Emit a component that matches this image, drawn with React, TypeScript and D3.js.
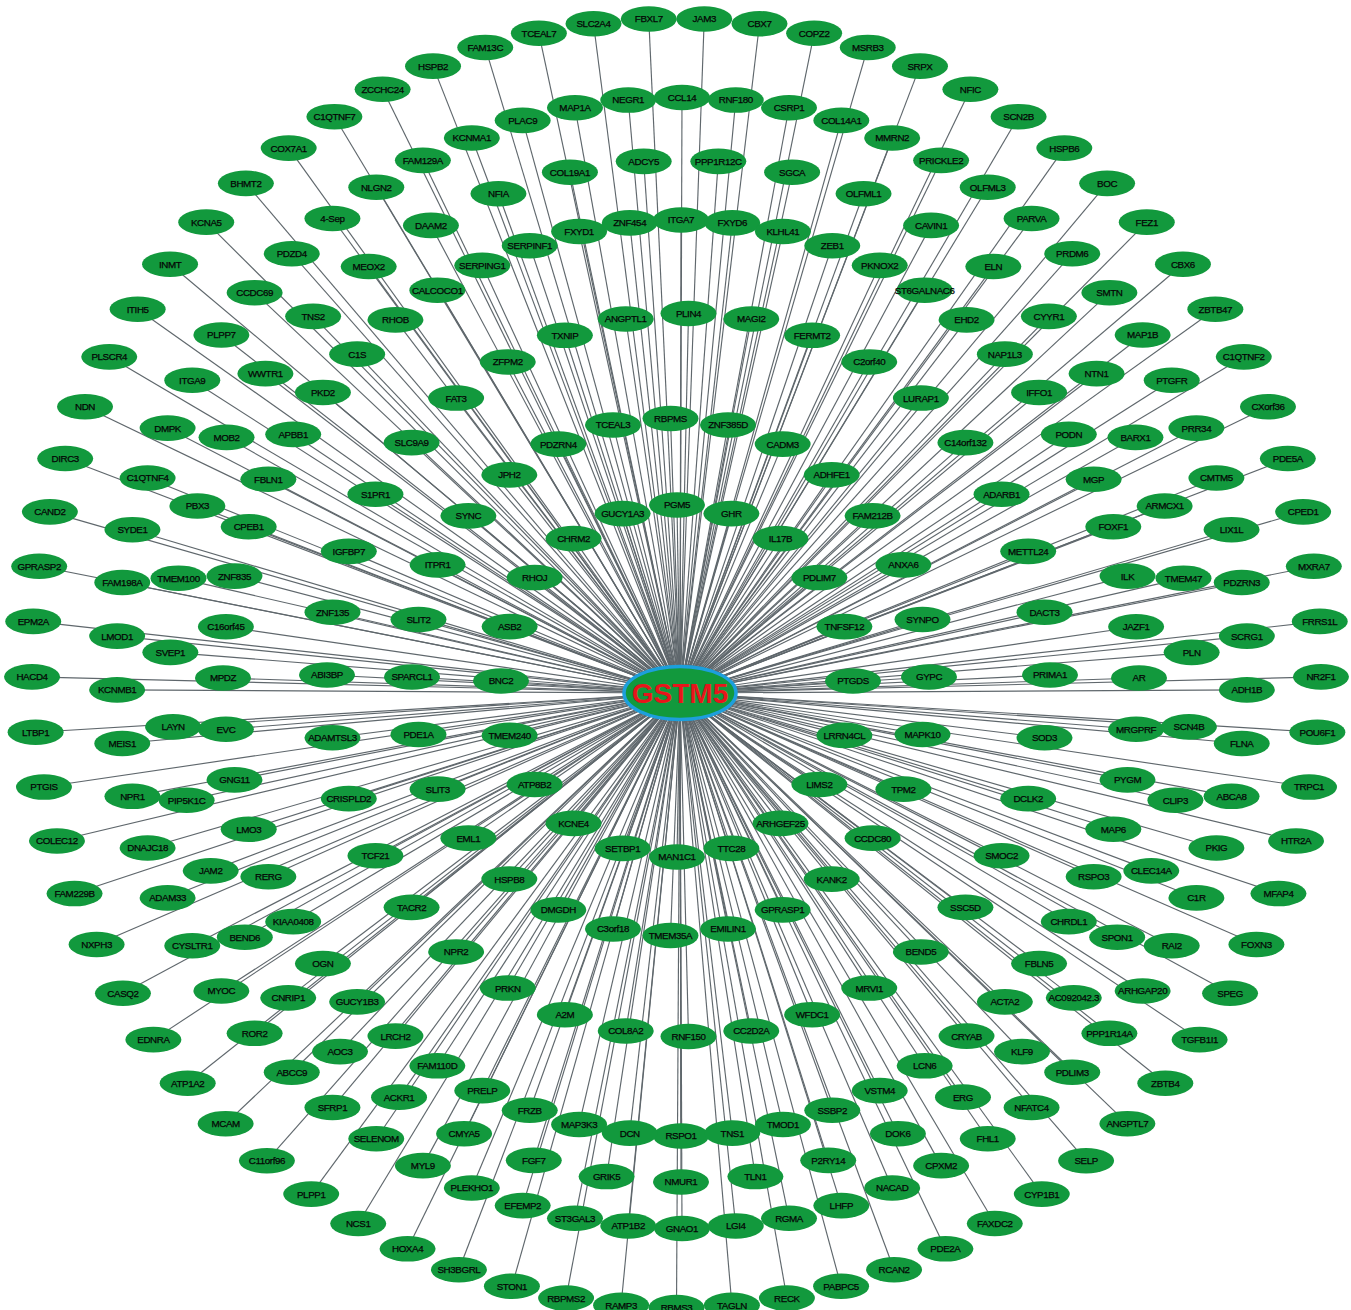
import * as d3 from 'd3';

const HUB = 'GSTM5';

// each ring is listed clockwise on screen, starting from its bottom-most node
const ring1 = ['MAN1C1', 'SETBP1', 'KCNE4', 'ATP8B2', 'TMEM240', 'BNC2', 'ASB2', 'RHOJ', 'CHRM2', 'GUCY1A3',
  'PGM5', 'GHR', 'IL17B', 'PDLIM7', 'TNFSF12', 'PTGDS', 'LRRN4CL', 'LIMS2', 'ARHGEF25', 'TTC28'];

const ring2 = ['TMEM35A', 'C3orf18', 'DMGDH', 'HSPB8', 'EML1', 'SLIT3', 'PDE1A', 'SPARCL1', 'SLIT2', 'ITPR1',
  'SYNC', 'JPH2', 'PDZRN4', 'TCEAL3', 'RBPMS', 'ZNF385D', 'CADM3', 'ADHFE1', 'FAM212B', 'ANXA6',
  'SYNPO', 'GYPC', 'MAPK10', 'TPM2', 'CCDC80', 'KANK2', 'GPRASP1', 'EMILIN1'];

const ring3 = ['RNF150', 'COL8A2', 'A2M', 'PRKN', 'NPR2', 'TACR2', 'TCF21', 'CRISPLD2', 'ADAMTSL3', 'ABI3BP',
  'ZNF135', 'IGFBP7', 'S1PR1', 'SLC9A9', 'FAT3', 'ZFPM2', 'TXNIP', 'ANGPTL1', 'PLIN4', 'MAGI2',
  'FERMT2', 'C2orf40', 'LURAP1', 'C14orf132', 'ADARB1', 'METTL24', 'DACT3', 'PRIMA1', 'SOD3', 'DCLK2',
  'SMOC2', 'SSC5D', 'BEND5', 'MRVI1', 'WFDC1', 'CC2D2A'];

const ring4 = ['RSPO1', 'DCN', 'MAP3K3', 'FRZB', 'PRELP', 'FAM110D', 'LRCH2', 'GUCY1B3', 'OGN', 'KIAA0408',
  'RERG', 'LMO3', 'GNG11', 'EVC', 'MPDZ', 'C16orf45', 'ZNF835', 'CPEB1', 'FBLN1', 'APBB1',
  'PKD2', 'C1S', 'RHOB', 'CALCOCO1', 'SERPING1', 'SERPINF1', 'FXYD1', 'ZNF454', 'ITGA7', 'FXYD6',
  'KLHL41', 'ZEB1', 'PKNOX2', 'ST6GALNAC6', 'EHD2', 'NAP1L3', 'IFFO1', 'PODN', 'MGP', 'FOXF1',
  'ILK', 'JAZF1', 'AR', 'MRGPRF', 'PYGM', 'MAP6', 'RSPO3', 'CHRDL1', 'FBLN5', 'ACTA2',
  'CRYAB', 'LCN6', 'VSTM4', 'SSBP2', 'TMOD1', 'TNS1'];

const ring5 = ['NMUR1', 'GRIK5', 'FGF7', 'CMYA5', 'ACKR1', 'AOC3', 'CNRIP1', 'BEND6', 'JAM2', 'PIP5K1C',
  'LAYN', 'SVEP1', 'TMEM100', 'PBX3', 'MOB2', 'WWTR1', 'TNS2', 'MEOX2', 'DAAM2', 'NFIA',
  'COL19A1', 'ADCY5', 'PPP1R12C', 'SGCA', 'OLFML1', 'CAVIN1', 'ELN', 'CYYR1', 'NTN1', 'BARX1',
  'ARMCX1', 'TMEM47', 'PLN', 'SCN4B', 'CLIP3', 'CLEC14A', 'SPON1', 'AC092042.3', 'KLF9', 'ERG',
  'DOK6', 'P2RY14', 'TLN1'];

const ring6 = ['GNAO1', 'ATP1B2', 'ST3GAL3', 'EFEMP2', 'PLEKHO1', 'MYL9', 'SELENOM', 'SFRP1', 'ABCC9', 'ROR2',
  'MYOC', 'CYSLTR1', 'ADAM33', 'DNAJC18', 'NPR1', 'MEIS1', 'KCNMB1', 'LMOD1', 'FAM198A', 'SYDE1',
  'C1QTNF4', 'DMPK', 'ITGA9', 'PLPP7', 'CCDC69', 'PDZD4', '4-Sep', 'NLGN2', 'FAM129A', 'KCNMA1',
  'PLAC9', 'MAP1A', 'NEGR1', 'CCL14', 'RNF180', 'CSRP1', 'COL14A1', 'MMRN2', 'PRICKLE2', 'OLFML3',
  'PARVA', 'PRDM6', 'SMTN', 'MAP1B', 'PTGFR', 'PRR34', 'CMTM5', 'LIX1L', 'PDZRN3', 'SCRG1',
  'ADH1B', 'FLNA', 'ABCA8', 'PKIG', 'C1R', 'RAI2', 'ARHGAP20', 'PPP1R14A', 'PDLIM3', 'NFATC4',
  'FHL1', 'CPXM2', 'NACAD', 'LHFP', 'RGMA', 'LGI4'];

const ring7 = ['RBMS3', 'RAMP3', 'RBPMS2', 'STON1', 'SH3BGRL', 'HOXA4', 'NCS1', 'PLPP1', 'C11orf96', 'MCAM',
  'ATP1A2', 'EDNRA', 'CASQ2', 'NXPH3', 'FAM229B', 'COLEC12', 'PTGIS', 'LTBP1', 'HACD4', 'EPM2A',
  'GPRASP2', 'CAND2', 'DIRC3', 'NDN', 'PLSCR4', 'ITIH5', 'INMT', 'KCNA5', 'BHMT2', 'COX7A1',
  'C1QTNF7', 'ZCCHC24', 'HSPB2', 'FAM13C', 'TCEAL7', 'SLC2A4', 'FBXL7', 'JAM3', 'CBX7', 'COPZ2',
  'MSRB3', 'SRPX', 'NFIC', 'SCN2B', 'HSPB6', 'BOC', 'FEZ1', 'CBX6', 'ZBTB47', 'C1QTNF2',
  'CXorf36', 'PDE5A', 'CPED1', 'MXRA7', 'FRRS1L', 'NR2F1', 'POU6F1', 'TRPC1', 'HTR2A', 'MFAP4',
  'FOXN3', 'SPEG', 'TGFB1I1', 'ZBTB4', 'ANGPTL7', 'SELP', 'CYP1B1', 'FAXDC2', 'PDE2A', 'RCAN2',
  'PABPC5', 'RECK', 'TAGLN'];

const rings = [ring1, ring2, ring3, ring4, ring5, ring6, ring7];

// concentric layout: circle centre and radius of each ring
const ringGeom = [
  { cx: 677, cy: 681, r: 176 },
  { cx: 670.5, cy: 677, r: 258.5 },
  { cx: 688.5, cy: 675, r: 361.5 },
  { cx: 681, cy: 678, r: 458 },
  { cx: 681, cy: 671, r: 511 },
  { cx: 682, cy: 663, r: 565.5 },
  { cx: 676.5, cy: 663, r: 644.6 },
];
const hubPos = { x: 680, y: 693 };

const GREEN = '#12993d';

export default function App() {
  const nodes = rings.flatMap((names, i) => {
    const g = ringGeom[i];
    // start at the bottom (pi/2) and go round once
    const angle = d3.scaleLinear().domain([0, names.length]).range([Math.PI / 2, Math.PI / 2 + 2 * Math.PI]);
    return names.map((name, k) => ({
      name,
      x: g.cx + g.r * Math.cos(angle(k)),
      y: g.cy + g.r * Math.sin(angle(k)),
    }));
  });

  return (
    <svg width={1351} height={1310} style={{ position: 'absolute', left: 0, top: 0, background: '#fff' }}
      fontFamily="'Liberation Sans', Arial, sans-serif">
      <g stroke="#5f676c" strokeWidth={1.15}>
        {nodes.map((n) => (
          <line key={'e' + n.name} x1={hubPos.x} y1={hubPos.y} x2={n.x} y2={n.y} />
        ))}
      </g>
      <g>
        {nodes.map((n) => (
          <g key={n.name} transform={`translate(${n.x},${n.y})`}>
            <ellipse rx={28} ry={12.8} fill={GREEN} />
            <text textAnchor="middle" dy="0.35em" fontSize={9.8} letterSpacing={-0.4}
              fill="#050505" stroke="#050505" strokeWidth={0.25}>{n.name}</text>
          </g>
        ))}
      </g>
      <g transform={`translate(${hubPos.x},${hubPos.y})`}>
        <ellipse rx={56} ry={26.5} fill={GREEN} stroke="#1d9fdc" strokeWidth={3.5} />
        <text textAnchor="middle" dy="0.36em" fontSize={28} fontWeight="bold" fill="#e8151b">{HUB}</text>
      </g>
    </svg>
  );
}
